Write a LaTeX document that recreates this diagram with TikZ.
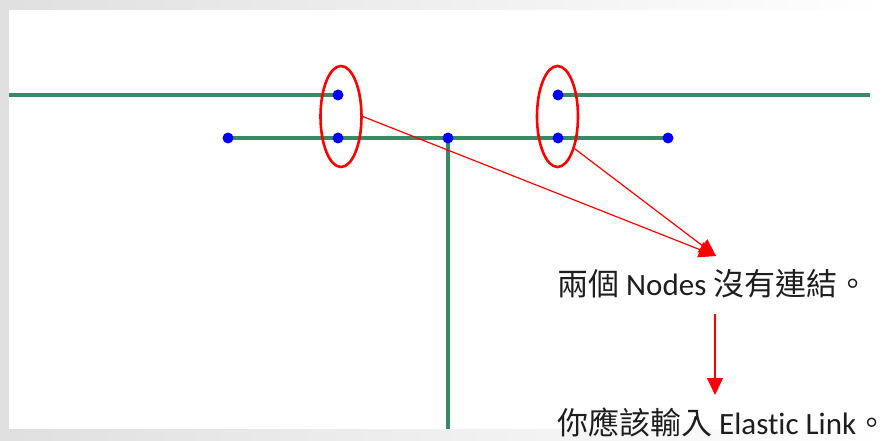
\documentclass[tikz,border=0pt]{standalone}
\usepackage{fontspec}
\setmainfont{Carlito}[Ligatures=NoCommon]
\newfontfamily\cjk{Noto Sans CJK TC}
\usetikzlibrary{shapes.geometric,arrows.meta}
\definecolor{gline}{RGB}{55,138,100}
\definecolor{txt}{RGB}{30,30,30}
\definecolor{band}{RGB}{224,224,224}
\tikzset{
  greenline/.style={draw=gline,line width=3.2pt},
  dot/.style={circle,fill=blue,inner sep=0pt,minimum size=11pt},
  oval/.style={ellipse,draw=red,line width=2.6pt,minimum width=41pt,minimum height=101pt,inner sep=0pt},
  redarrow/.style={draw=red,line width=1.2pt,-{Triangle[length=17pt,width=16pt]}},
  label/.style={anchor=base west,inner sep=0pt,text=txt,font=\fontsize{31}{37}\selectfont}
}
\begin{document}
\begin{tikzpicture}[x=1pt,y=-1pt]
\useasboundingbox (0,0) rectangle (889,441);
% frame bands
\fill[band] (0,0) rectangle (9,441);
\shade[left color=band,right color=white] (9,0) rectangle (889,10);
\shade[left color=band,right color=white] (9,429) rectangle (889,441);
% coordinates
\coordinate (L) at (9,95);
\coordinate (R) at (870,95);
\coordinate (B) at (448,429);
% dot positions
\coordinate (d1) at (338,95);
\coordinate (d2) at (558,95);
\coordinate (m1) at (228,138);
\coordinate (m2) at (338,138);
\coordinate (m3) at (448,138);
\coordinate (m4) at (558,138);
\coordinate (m5) at (668,138);
% green lines
\draw[greenline] (L) -- (d1);
\draw[greenline] (d2) -- (R);
\draw[greenline] (m1) -- (m5);
\draw[greenline] (m3) -- (B);
% dots on top
\foreach \n in {d1,d2,m1,m2,m3,m4,m5} \node[dot] (\n dot) at (\n) {};
% ovals
\node[oval] (e1) at (341,116.5) {};
\node[oval] (e2) at (557.5,116.5) {};
% arrows
\coordinate (tip) at (716,256);
\draw[redarrow] (e1.east) -- (tip);
\draw[redarrow] (e2.-62) -- (tip);
% texts
\node[label] (t1) at (557,295) {{\cjk 兩個} Nodes {\cjk 沒有連結。}};
\node[label] (t2) at (557,434) {{\cjk 你應該輸入} Elastic Link{\cjk 。}};
\coordinate (s3) at (715,314);
\coordinate (e3) at (715,395);
\draw[redarrow] (s3) -- (e3);
\end{tikzpicture}
\end{document}
